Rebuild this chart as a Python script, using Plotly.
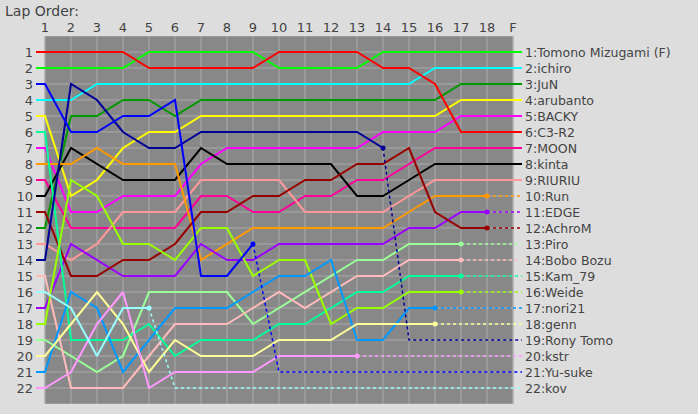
import plotly.graph_objects as go

# ---------------- data ----------------
lap_values = list(range(1, 20))
lap_labels = [str(i) for i in range(1, 19)] + ["F"]
position_values = list(range(1, 23))

names = ["Tomono Mizugami (F)", "ichiro", "JuN", "arubanto", "BACKY", "C3-R2",
         "MOON", "kinta", "RIURIU", "Run", "EDGE", "AchroM", "Piro", "Bobo Bozu",
         "Kam_79", "Weide", "nori21", "genn", "Rony Tomo", "kstr", "Yu-suke", "kov"]
final_positions = list(range(1, 23))

colors = ["#00ff00", "#00ffff", "#009900", "#ffff00", "#ff00ff", "#ff0000",
          "#ff0099", "#000000", "#ff9999", "#ff9900", "#9900ff", "#990000",
          "#99ff99", "#ffbbbb", "#00ff99", "#99ff00", "#0099ff", "#ffff99",
          "#000099", "#ff99ff", "#0000ff", "#99ffff"]

# position at the end of each lap column (1..18, F); shorter list = retired
pos_tomono = [2, 2, 2, 2, 1, 1, 1, 1, 1, 2, 2, 2, 2, 1, 1, 1, 1, 1, 1]
pos_ichiro = [4, 4, 3, 3, 3, 3, 3, 3, 3, 3, 3, 3, 3, 3, 3, 2, 2, 2, 2]
pos_jun = [12, 5, 5, 4, 4, 5, 4, 4, 4, 4, 4, 4, 4, 4, 4, 4, 3, 3, 3]
pos_arubanto = [5, 10, 9, 7, 6, 6, 5, 5, 5, 5, 5, 5, 5, 5, 5, 5, 4, 4, 4]
pos_backy = [7, 11, 11, 10, 10, 10, 8, 7, 7, 7, 7, 7, 7, 6, 6, 6, 5, 5, 5]
pos_c3r2 = [1, 1, 1, 1, 2, 2, 2, 2, 2, 1, 1, 1, 1, 2, 2, 3, 6, 6, 6]
pos_moon = [9, 12, 12, 12, 12, 12, 10, 10, 11, 11, 10, 10, 9, 9, 8, 7, 7, 7, 7]
pos_kinta = [10, 7, 8, 9, 9, 9, 7, 8, 8, 8, 8, 8, 10, 10, 9, 8, 8, 8, 8]
pos_riuriu = [13, 14, 13, 11, 11, 11, 9, 9, 9, 9, 11, 11, 11, 11, 10, 9, 9, 9, 9]
pos_run = [8, 8, 7, 8, 8, 8, 14, 13, 12, 12, 12, 12, 12, 12, 11, 10, 10, 10]
pos_edge = [17, 13, 14, 15, 15, 15, 13, 14, 14, 13, 13, 13, 13, 13, 12, 12, 11, 11]
pos_achrom = [11, 15, 15, 14, 14, 13, 11, 11, 10, 10, 9, 9, 8, 8, 7, 11, 12, 12]
pos_piro = [19, 20, 21, 20, 16, 16, 16, 16, 18, 17, 16, 15, 14, 14, 13, 13, 13]
pos_bobo = [15, 22, 22, 22, 20, 18, 18, 18, 17, 16, 17, 16, 15, 15, 14, 14, 14]
pos_kam = [6, 19, 19, 19, 18, 20, 19, 19, 19, 18, 18, 17, 16, 16, 15, 15, 15]
pos_weide = [18, 9, 10, 13, 13, 14, 12, 12, 15, 14, 14, 18, 17, 17, 16, 16, 16]
pos_nori21 = [21, 16, 17, 21, 19, 17, 17, 17, 16, 15, 15, 14, 19, 19, 17, 17]
pos_genn = [20, 18, 16, 18, 21, 19, 20, 20, 20, 19, 19, 19, 18, 18, 18, 18]
pos_rony = [14, 3, 4, 6, 7, 7, 6, 6, 6, 6, 6, 6, 6, 7]
pos_kstr = [22, 21, 18, 16, 22, 21, 21, 21, 21, 20, 20, 20, 20]
pos_yusuke = [3, 6, 6, 5, 5, 4, 15, 15, 13]
pos_kov = [16, 17, 20, 17, 17]

all_positions = [pos_tomono, pos_ichiro, pos_jun, pos_arubanto, pos_backy, pos_c3r2,
                 pos_moon, pos_kinta, pos_riuriu, pos_run, pos_edge, pos_achrom,
                 pos_piro, pos_bobo, pos_kam, pos_weide, pos_nori21, pos_genn,
                 pos_rony, pos_kstr, pos_yusuke, pos_kov]

# ---------------- figure ----------------
STUB = 9 / 26.0
X0, X1 = lap_values[0] - STUB, lap_values[-1] + STUB
TXT = "#444444"
FONT = "DejaVu Sans"

fig = go.Figure()

for name, col, fin, pos in zip(names, colors, final_positions, all_positions):
    n = len(pos)
    xs = [X0] + lap_values[:n]
    ys = [pos[0]] + pos
    if n == len(lap_values):
        xs = xs + [X1]
        ys = ys + [fin]
        fig.add_trace(go.Scatter(x=xs, y=ys, mode="lines", name=name,
                                 line=dict(color=col, width=2), hoverinfo="skip",
                                 showlegend=False))
    else:
        fig.add_trace(go.Scatter(x=xs, y=ys, mode="lines", name=name,
                                 line=dict(color=col, width=2), hoverinfo="skip",
                                 showlegend=False))
        last_lap = lap_values[n - 1]
        if pos[-1] != fin:
            dx = [last_lap, lap_values[n], X1]
            dy = [pos[-1], fin, fin]
        else:
            dx = [last_lap, X1]
            dy = [pos[-1], fin]
        fig.add_trace(go.Scatter(x=dx, y=dy, mode="lines",
                                 line=dict(color=col, width=1.5, dash="dot"),
                                 hoverinfo="skip", showlegend=False))
        fig.add_trace(go.Scatter(x=[last_lap], y=[pos[-1]], mode="markers",
                                 marker=dict(color=col, size=5),
                                 hoverinfo="skip", showlegend=False))

# right-hand result labels
for name, fin in zip(names, final_positions):
    fig.add_annotation(x=1, xref="paper", y=fin, yref="y", xanchor="left",
                       xshift=1, text=f"{fin}:{name}", showarrow=False,
                       font=dict(family=FONT, size=12.5, color=TXT))

# plot background + grid
GRID = "#aaaaaa"
shapes = [dict(type="rect", xref="x", yref="y", x0=lap_values[0], x1=lap_values[-1],
               y0=0, y1=23, fillcolor="#888888", line=dict(color=GRID, width=1),
               layer="below")]
for lv in lap_values:
    shapes.append(dict(type="line", xref="x", yref="y", x0=lv, x1=lv, y0=0, y1=23,
                       line=dict(color=GRID, width=1), layer="below"))
for pv in position_values:
    shapes.append(dict(type="line", xref="x", yref="y", x0=lap_values[0],
                       x1=lap_values[-1], y0=pv, y1=pv,
                       line=dict(color=GRID, width=1), layer="below"))

fig.update_layout(
    width=698, height=414,
    margin=dict(l=36, r=176, t=36, b=10),
    paper_bgcolor="#dddddd", plot_bgcolor="rgba(0,0,0,0)",
    shapes=shapes,
    title=dict(text="Lap Order:", x=5 / 698, xanchor="left", xref="container",
               y=1 - 11 / 414, yref="container", yanchor="middle",
               font=dict(family=FONT, size=14, color=TXT)),
    xaxis=dict(range=[X0, X1], side="top", tickmode="array", tickvals=lap_values,
               ticktext=lap_labels, showgrid=False, zeroline=False, showline=False,
               ticks="", fixedrange=True,
               tickfont=dict(family=FONT, size=13, color=TXT)),
    yaxis=dict(range=[23, 0], tickmode="array", tickvals=position_values,
               ticktext=[str(v) for v in position_values], showgrid=False,
               zeroline=False, showline=False, ticks="", fixedrange=True,
               ticklabelstandoff=2,
               tickfont=dict(family=FONT, size=13, color=TXT)),
)

fig.write_html("out.html")
